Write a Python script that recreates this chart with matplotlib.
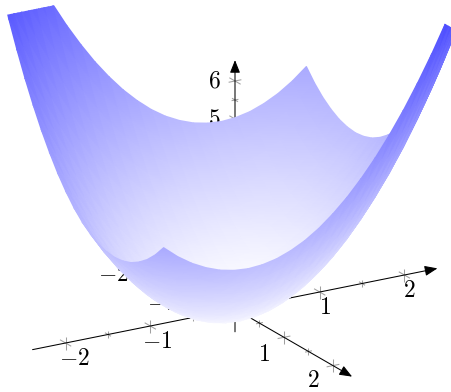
import numpy as np
import matplotlib
matplotlib.use("Agg")
import matplotlib.pyplot as plt
from matplotlib.colors import LinearSegmentedColormap
from matplotlib.patches import Polygon

plt.rcParams['mathtext.fontset'] = 'cm'
plt.rcParams['font.family'] = 'cmr10'
plt.rcParams['axes.formatter.use_mathtext'] = True

# surface samples, rows follow y_vals, columns follow x_vals
x_vals = [-2, -1.8333, -1.6667, -1.5, -1.3333, -1.1667, -1, -0.8333, -0.6667, -0.5, -0.3333, -0.1667, 0,
          0.1667, 0.3333, 0.5, 0.6667, 0.8333, 1, 1.1667, 1.3333, 1.5, 1.6667, 1.8333, 2]
y_vals = [-2, -1.8333, -1.6667, -1.5, -1.3333, -1.1667, -1, -0.8333, -0.6667, -0.5, -0.3333, -0.1667, 0,
          0.1667, 0.3333, 0.5, 0.6667, 0.8333, 1, 1.1667, 1.3333, 1.5, 1.6667, 1.8333, 2]
z_vals = [
    [12.00, 11.03, 10.11, 9.25, 8.44, 7.69, 7.00, 6.36, 5.78, 5.25, 4.78, 4.36, 4.00, 3.69, 3.44, 3.25, 3.11, 3.03, 3.00, 3.03, 3.11, 3.25, 3.44, 3.69, 4.00],
    [11.03, 10.08, 9.19, 8.36, 7.58, 6.86, 6.19, 5.58, 5.03, 4.53, 4.08, 3.69, 3.36, 3.08, 2.86, 2.69, 2.58, 2.53, 2.53, 2.58, 2.69, 2.86, 3.08, 3.36, 3.69],
    [10.11, 9.19, 8.33, 7.53, 6.78, 6.08, 5.44, 4.86, 4.33, 3.86, 3.44, 3.08, 2.78, 2.53, 2.33, 2.19, 2.11, 2.08, 2.11, 2.19, 2.33, 2.53, 2.78, 3.08, 3.44],
    [9.25, 8.36, 7.53, 6.75, 6.03, 5.36, 4.75, 4.19, 3.69, 3.25, 2.86, 2.53, 2.25, 2.03, 1.86, 1.75, 1.69, 1.69, 1.75, 1.86, 2.03, 2.25, 2.53, 2.86, 3.25],
    [8.44, 7.58, 6.78, 6.03, 5.33, 4.69, 4.11, 3.58, 3.11, 2.69, 2.33, 2.03, 1.78, 1.58, 1.44, 1.36, 1.33, 1.36, 1.44, 1.58, 1.78, 2.03, 2.33, 2.69, 3.11],
    [7.69, 6.86, 6.08, 5.36, 4.69, 4.08, 3.53, 3.03, 2.58, 2.19, 1.86, 1.58, 1.36, 1.19, 1.08, 1.03, 1.03, 1.08, 1.19, 1.36, 1.58, 1.86, 2.19, 2.58, 3.03],
    [7.00, 6.19, 5.44, 4.75, 4.11, 3.53, 3.00, 2.53, 2.11, 1.75, 1.44, 1.19, 1.00, 0.86, 0.78, 0.75, 0.78, 0.86, 1.00, 1.19, 1.44, 1.75, 2.11, 2.53, 3.00],
    [6.36, 5.58, 4.86, 4.19, 3.58, 3.03, 2.53, 2.08, 1.69, 1.36, 1.08, 0.86, 0.69, 0.58, 0.53, 0.53, 0.58, 0.69, 0.86, 1.08, 1.36, 1.69, 2.08, 2.53, 3.03],
    [5.78, 5.03, 4.33, 3.69, 3.11, 2.58, 2.11, 1.69, 1.33, 1.03, 0.78, 0.58, 0.44, 0.36, 0.33, 0.36, 0.44, 0.58, 0.78, 1.03, 1.33, 1.69, 2.11, 2.58, 3.11],
    [5.25, 4.53, 3.86, 3.25, 2.69, 2.19, 1.75, 1.36, 1.03, 0.75, 0.53, 0.36, 0.25, 0.19, 0.19, 0.25, 0.36, 0.53, 0.75, 1.03, 1.36, 1.75, 2.19, 2.69, 3.25],
    [4.78, 4.08, 3.44, 2.86, 2.33, 1.86, 1.44, 1.08, 0.78, 0.53, 0.33, 0.19, 0.11, 0.08, 0.11, 0.19, 0.33, 0.53, 0.78, 1.08, 1.44, 1.86, 2.33, 2.86, 3.44],
    [4.36, 3.69, 3.08, 2.53, 2.03, 1.58, 1.19, 0.86, 0.58, 0.36, 0.19, 0.08, 0.03, 0.03, 0.08, 0.19, 0.36, 0.58, 0.86, 1.19, 1.58, 2.03, 2.53, 3.08, 3.69],
    [4.00, 3.36, 2.78, 2.25, 1.78, 1.36, 1.00, 0.69, 0.44, 0.25, 0.11, 0.03, 0.00, 0.03, 0.11, 0.25, 0.44, 0.69, 1.00, 1.36, 1.78, 2.25, 2.78, 3.36, 4.00],
    [3.69, 3.08, 2.53, 2.03, 1.58, 1.19, 0.86, 0.58, 0.36, 0.19, 0.08, 0.03, 0.03, 0.08, 0.19, 0.36, 0.58, 0.86, 1.19, 1.58, 2.03, 2.53, 3.08, 3.69, 4.36],
    [3.44, 2.86, 2.33, 1.86, 1.44, 1.08, 0.78, 0.53, 0.33, 0.19, 0.11, 0.08, 0.11, 0.19, 0.33, 0.53, 0.78, 1.08, 1.44, 1.86, 2.33, 2.86, 3.44, 4.08, 4.78],
    [3.25, 2.69, 2.19, 1.75, 1.36, 1.03, 0.75, 0.53, 0.36, 0.25, 0.19, 0.19, 0.25, 0.36, 0.53, 0.75, 1.03, 1.36, 1.75, 2.19, 2.69, 3.25, 3.86, 4.53, 5.25],
    [3.11, 2.58, 2.11, 1.69, 1.33, 1.03, 0.78, 0.58, 0.44, 0.36, 0.33, 0.36, 0.44, 0.58, 0.78, 1.03, 1.33, 1.69, 2.11, 2.58, 3.11, 3.69, 4.33, 5.03, 5.78],
    [3.03, 2.53, 2.08, 1.69, 1.36, 1.08, 0.86, 0.69, 0.58, 0.53, 0.53, 0.58, 0.69, 0.86, 1.08, 1.36, 1.69, 2.08, 2.53, 3.03, 3.58, 4.19, 4.86, 5.58, 6.36],
    [3.00, 2.53, 2.11, 1.75, 1.44, 1.19, 1.00, 0.86, 0.78, 0.75, 0.78, 0.86, 1.00, 1.19, 1.44, 1.75, 2.11, 2.53, 3.00, 3.53, 4.11, 4.75, 5.44, 6.19, 7.00],
    [3.03, 2.58, 2.19, 1.86, 1.58, 1.36, 1.19, 1.08, 1.03, 1.03, 1.08, 1.19, 1.36, 1.58, 1.86, 2.19, 2.58, 3.03, 3.53, 4.08, 4.69, 5.36, 6.08, 6.86, 7.69],
    [3.11, 2.69, 2.33, 2.03, 1.78, 1.58, 1.44, 1.36, 1.33, 1.36, 1.44, 1.58, 1.78, 2.03, 2.33, 2.69, 3.11, 3.58, 4.11, 4.69, 5.33, 6.03, 6.78, 7.58, 8.44],
    [3.25, 2.86, 2.53, 2.25, 2.03, 1.86, 1.75, 1.69, 1.69, 1.75, 1.86, 2.03, 2.25, 2.53, 2.86, 3.25, 3.69, 4.19, 4.75, 5.36, 6.03, 6.75, 7.53, 8.36, 9.25],
    [3.44, 3.08, 2.78, 2.53, 2.33, 2.19, 2.11, 2.08, 2.11, 2.19, 2.33, 2.53, 2.78, 3.08, 3.44, 3.86, 4.33, 4.86, 5.44, 6.08, 6.78, 7.53, 8.33, 9.19, 10.11],
    [3.69, 3.36, 3.08, 2.86, 2.69, 2.58, 2.53, 2.53, 2.58, 2.69, 2.86, 3.08, 3.36, 3.69, 4.08, 4.53, 5.03, 5.58, 6.19, 6.86, 7.58, 8.36, 9.19, 10.08, 11.03],
    [4.00, 3.69, 3.44, 3.25, 3.11, 3.03, 3.00, 3.03, 3.11, 3.25, 3.44, 3.69, 4.00, 4.36, 4.78, 5.25, 5.78, 6.36, 7.00, 7.69, 8.44, 9.25, 10.11, 11.03, 12.00],
]

xy_ticks = [-2, -1, 1, 2]
xy_minor = [-1.5, -0.5, 0.5, 1.5]
z_ticks = [1, 2, 3, 4, 5, 6]
z_minor = [0.5, 1.5, 2.5, 3.5, 4.5, 5.5]

# axis box
lim_xy = 2.39
z_top = 6.55
z_bot = -0.6

# oblique view: canvas pixels per data unit
origin = np.array([235.0, 309.0])
ex = np.array([84.7, -17.0])
ey = np.array([49.0, 28.3])
ez = np.array([0.0, -38.0])


def proj(x, y, z):
    x, y, z = np.asarray(x, float), np.asarray(y, float), np.asarray(z, float)
    return (origin[0] + ex[0] * x + ey[0] * y + ez[0] * z,
            origin[1] + ex[1] * x + ey[1] * y + ez[1] * z)


def tick_marks(ax, x, y, z, dirs, half):
    px, py = proj(x, y, z)
    for d in dirs:
        u = d / np.hypot(*d) * half
        ax.plot([px - u[0], px + u[0]], [py - u[1], py + u[1]],
                color='#a0a0a0', lw=0.75, zorder=2, solid_capstyle='butt')


def axis_arrow(ax, start, end):
    ax.annotate('', xy=proj(*end), xytext=proj(*start),
                arrowprops=dict(arrowstyle='-|>,head_length=0.55,head_width=0.22',
                                lw=0.75, color='k', mutation_scale=14,
                                shrinkA=0, shrinkB=0),
                zorder=3)


fig = plt.figure(figsize=(4.52, 3.92), dpi=100)
ax = fig.add_axes([0, 0, 1, 1])
ax.set_xlim(0, 452)
ax.set_ylim(392, 0)
ax.axis('off')

# ticks and axes sit behind the surface
for t in xy_ticks + xy_minor:
    half = 6.5 if t in xy_ticks else 3.5
    tick_marks(ax, t, 0, 0, [ey, ez], half)
    tick_marks(ax, 0, t, 0, [ex, ez], half)
for t in z_ticks + z_minor:
    half = 6.5 if t in z_ticks else 3.5
    tick_marks(ax, 0, 0, t, [ex, ey], half)

axis_arrow(ax, (-lim_xy, 0, 0), (lim_xy, 0, 0))
axis_arrow(ax, (0, -lim_xy, 0), (0, lim_xy, 0))
axis_arrow(ax, (0, 0, z_bot), (0, 0, z_top))

fs = 17
for t in xy_ticks:
    px, py = proj(t, 0, 0)
    dx = 5 if t > 0 else (6.5 if t == -1 else 9)
    ax.text(px + dx, py + 16, f'${t}$', fontsize=fs, ha='center', va='center', zorder=1)
    px, py = proj(0, t, 0)
    if t == 2:
        dx, dy = -20, 15.5  # keep it inside the canvas
    elif t > 0:
        dx, dy = -20, 17.5
    else:
        dx, dy = -24, 23
    ax.text(px + dx, py + dy, f'${t}$', fontsize=fs, ha='center', va='center', zorder=1)
for t in z_ticks:
    px, py = proj(0, 0, t)
    ax.text(px - 20.5, py, f'${t}$', fontsize=fs, ha='center', va='center', zorder=1)

# surface: back to front, gouraud shaded
X, Y = np.meshgrid(x_vals, y_vals)
Z = np.array(z_vals)
PX, PY = proj(X, Y, Z)
nrow, ncol = Z.shape
tris = []
for j in range(nrow - 1):
    for i in range(ncol - 2, -1, -1):
        a = j * ncol + i
        b = a + 1
        c = a + ncol
        d = c + 1
        tris.append((a, b, d))
        tris.append((a, d, c))

whiteblue = LinearSegmentedColormap.from_list('whiteblue', ['white', 'blue'])
surf = ax.tripcolor(PX.ravel(), PY.ravel(), np.array(tris), Z.ravel(),
                    shading='gouraud', cmap=whiteblue, vmin=0, vmax=12, zorder=5)

# pgfplots clips to the outline of the 3d box
corners = [(-lim_xy, -lim_xy, z_top), (lim_xy, -lim_xy, z_top), (lim_xy, lim_xy, z_top),
           (lim_xy, lim_xy, z_bot), (-lim_xy, lim_xy, z_bot), (-lim_xy, -lim_xy, z_bot)]
clip = Polygon([proj(*c) for c in corners], closed=True, transform=ax.transData)
surf.set_clip_path(clip)

ax.set_xlim(0, 452)
ax.set_ylim(392, 0)
fig.savefig('out.png', dpi=100)
